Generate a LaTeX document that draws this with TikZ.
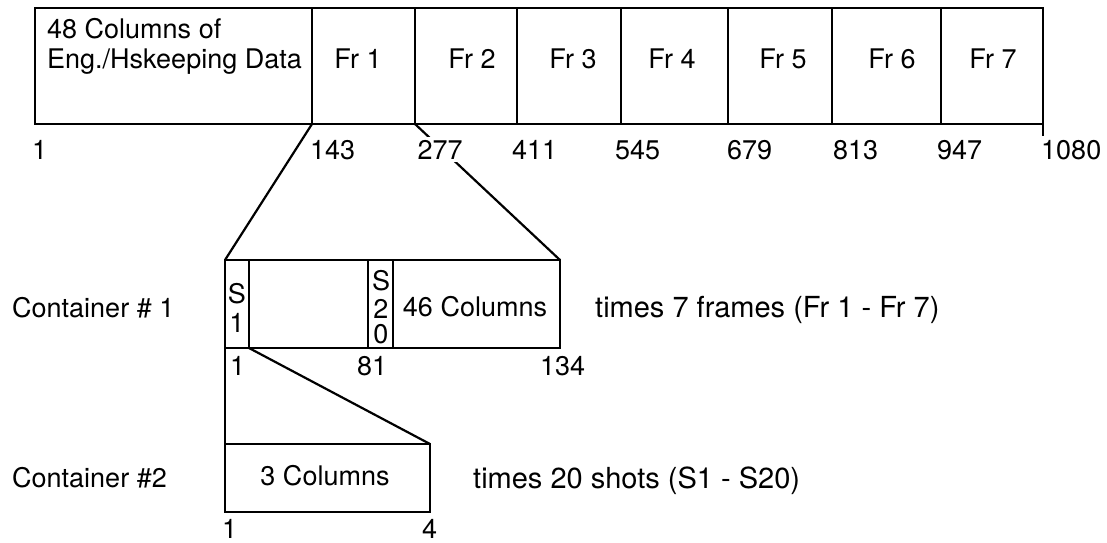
\documentclass[tikz,border=0pt]{standalone}
\usepackage{fontspec}
\setmainfont{TeX Gyre Heros}
\begin{document}
\begin{tikzpicture}[x=1pt,y=-1pt,
  every node/.style={font=\fontsize{27}{30}\selectfont},
  cell/.style={draw, line width=2.6pt, rectangle, inner sep=0pt, outer sep=0pt},
  lbl/.style={anchor=base west, inner sep=0pt},
  clbl/.style={anchor=base, inner sep=0pt},
  big/.style={font=\fontsize{29}{32}\selectfont},
  conn/.style={line width=2.2pt}]
\useasboundingbox (0,0) rectangle (1107,542);
% top bar
\node[cell, minimum width=277pt, minimum height=116pt] (eng) at (173.5,66) {};
\node[cell, minimum width=103pt, minimum height=116pt] (fr1) at (363.5,66) {};
\node[cell, minimum width=102pt, minimum height=116pt] (fr2) at (466,66) {};
\node[cell, minimum width=104pt, minimum height=116pt] (fr3) at (569,66) {};
\node[cell, minimum width=107pt, minimum height=116pt] (fr4) at (674.5,66) {};
\node[cell, minimum width=104pt, minimum height=116pt] (fr5) at (780,66) {};
\node[cell, minimum width=109pt, minimum height=116pt] (fr6) at (886.5,66) {};
\node[cell, minimum width=102pt, minimum height=116pt] (fr7) at (992,66) {};
\coordinate (endtick) at (1043,136);
\draw[line width=2.6pt] (fr7.south east) -- (endtick);
\node[lbl] (t48) at (47,38) {48 Columns of};
\node[lbl] (teng) at (47,68) {Eng./Hskeeping Data};
\node[clbl] (tf1) at (358,68) {Fr 1};
\node[clbl] (tf2) at (472,68) {Fr 2};
\node[clbl] (tf3) at (573,68) {Fr 3};
\node[clbl] (tf4) at (672,68) {Fr 4};
\node[clbl] (tf5) at (783,68) {Fr 5};
\node[clbl] (tf6) at (892,68) {Fr 6};
\node[clbl] (tf7) at (993,68) {Fr 7};
% container 1
\node[cell, minimum width=24pt, minimum height=88pt] (c1s1) at (237,304) {};
\node[cell, minimum width=119pt, minimum height=88pt] (c1mid) at (308.5,304) {};
\node[cell, minimum width=25pt, minimum height=88pt] (c1s20) at (380.5,304) {};
\node[cell, minimum width=167pt, minimum height=88pt] (c1rest) at (476.5,304) {};
% container 2
\node[cell, minimum width=205pt, minimum height=68pt] (c2) at (327.5,478) {};
% connectors
\draw[conn] (fr1.south west) -- (c1s1.north west);
\draw[conn] (fr2.south west) -- (c1rest.north east);
\draw[line width=2.6pt] (c1s1.south west) -- (c2.north west);
\draw[conn] (c1s1.south east) -- (c2.north east);
% numbers top
\node[lbl] (n1) at (32,159) {1};
\node[lbl] (n143) at (310,159) {143};
\node[lbl, fill=white, inner sep=2.5pt] (n277) at (415,159) {277};
\node[lbl] (n411) at (512,159) {411};
\node[lbl] (n545) at (615,159) {545};
\node[lbl] (n679) at (727,159) {679};
\node[lbl] (n813) at (833,159) {813};
\node[lbl] (n947) at (937,159) {947};
\node[lbl] (n1080) at (1041,159) {1080};
% container 1 texts
\node[clbl] (s1a) at (237,303) {S};
\node[clbl] (s1b) at (237,332) {1};
\node[clbl] (s20a) at (381,290) {S};
\node[clbl] (s20b) at (381,318) {2};
\node[clbl] (s20c) at (381,343) {0};
\node[clbl] (t46) at (475,316) {46 Columns};
\node[lbl] (tc1) at (12,317) {Container \# 1};
\node[lbl, big] (tt7) at (595,317) {times 7 frames (Fr 1 - Fr 7)};
\node[lbl] (m1) at (230,375) {1};
\node[lbl] (m81) at (357,375) {81};
\node[lbl] (m134) at (540,375) {134};
% container 2 texts
\node[lbl] (tc2) at (12,487) {Container \#2};
\node[clbl] (t3) at (325,485) {3 Columns};
\node[lbl, big] (tt20) at (473,488) {times 20 shots (S1 - S20)};
\node[lbl] (k1) at (222,538) {1};
\node[lbl] (k4) at (422,538) {4};
\end{tikzpicture}
\end{document}
